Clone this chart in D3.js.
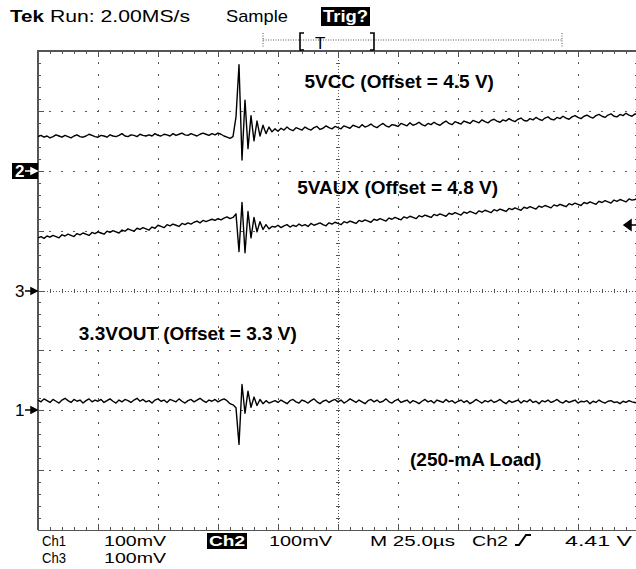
<!DOCTYPE html>
<html>
<head>
<meta charset="utf-8">
<title>Tek capture</title>
<script src="https://cdn.jsdelivr.net/npm/d3@7/dist/d3.min.js"></script>
<style>
  body { margin: 0; background: #fff; }
  svg { display: block; }
  .grat line, .grat path { stroke: #555; shape-rendering: crispEdges; }
  .lbl { font-family: "Liberation Sans", Arial, sans-serif; font-weight: bold; font-size: 19px; }
  .scr { font-family: "Liberation Sans", Arial, sans-serif; font-size: 17px; }
  .foot { font-size: 15px; }
</style>
</head>
<body>
<div id="scope"></div>
<script>
//sample clock: 1.25 us per point, 10 div x 25 us
const timeUs = d3.range(0, 250.01, 1.25);

//screen values in mV from graticule centre (100 mV/div)
const vcc5 = [
  257,259,256,258,255,257,260,258,256,259,
  257,255,258,260,257,256,258,261,259,257,
  256,259,258,256,260,258,257,259,262,258,
  257,260,259,257,261,259,258,260,258,262,
  259,258,261,260,258,262,259,261,263,260,
  259,262,260,258,261,263,261,259,262,260,
  263,261,258,256,254,257,
  290,377,218,318,237,292,250,283,258,276,262,273,265,
  270,266,271,268,273,269,267,272,270,268,
  273,270,268,272,274,269,271,275,272,270,
  274,272,270,275,273,271,276,274,272,277,
  273,275,278,274,272,276,279,275,273,277,
  276,274,279,277,275,280,276,278,281,277,
  275,279,277,281,278,276,280,283,279,277,
  282,280,278,283,281,279,284,282,280,285,
  282,280,284,286,283,281,285,283,287,284,
  282,286,288,284,283,287,285,289,286,284,
  288,290,286,285,289,287,291,288,286,290,
  292,289,287,291,293,290,288,292,294,291,
  289,293,295,291,290,294,292,296,293,291,
  295,293
];

const vaux5 = [
  88,90,87,91,89,92,90,88,93,91,
  94,92,90,95,93,96,94,92,97,95,
  98,96,94,99,97,100,98,96,101,99,
  103,101,99,104,102,105,103,101,106,104,
  109,107,105,110,108,111,109,107,112,110,
  113,111,114,116,113,117,115,117,119,117,
  120,118,121,123,120,122,
  128,65,147,63,132,88,122,98,115,102,110,103,107,
  106,109,105,108,110,106,109,107,111,108,
  110,107,112,109,111,113,110,108,113,111,
  114,112,110,115,113,116,114,112,117,115,
  118,116,114,119,117,120,118,116,121,119,
  122,120,118,123,121,124,122,120,125,123,
  126,124,122,127,125,128,126,124,129,127,
  130,128,126,131,129,132,130,128,133,131,
  134,132,130,135,133,136,134,132,137,135,
  138,136,134,139,137,140,138,136,141,139,
  142,140,138,143,141,144,142,140,145,143,
  146,144,142,147,145,148,146,144,149,147,
  150,148,146,151,149,152,150,148,153,151,
  152,154
];

const vout33 = [
  -183,-186,-181,-184,-187,-182,-185,-188,-183,-180,
  -184,-187,-182,-185,-183,-188,-184,-181,-186,-183,
  -185,-182,-187,-184,-181,-185,-188,-183,-186,-182,
  -184,-187,-183,-180,-185,-182,-186,-184,-188,-183,
  -181,-185,-183,-187,-182,-184,-186,-181,-185,-188,
  -184,-182,-186,-183,-180,-184,-187,-183,-185,-182,
  -186,-183,-181,-184,-189,-191,
  -196,-257,-157,-205,-168,-195,-178,-192,-182,-189,-184,-188,-186,
  -184,-187,-183,-186,-189,-184,-182,-186,-188,-183,
  -185,-188,-184,-181,-186,-189,-185,-183,-187,-184,
  -182,-186,-183,-188,-185,-181,-184,-187,-183,-186,
  -189,-184,-182,-186,-183,-187,-185,-181,-186,-188,
  -184,-182,-187,-185,-183,-188,-184,-186,-189,-185,
  -182,-186,-184,-188,-183,-185,-187,-182,-186,-184,
  -188,-185,-183,-187,-184,-189,-186,-182,-185,-188,
  -184,-186,-183,-187,-185,-182,-186,-189,-184,-187,
  -185,-183,-188,-184,-186,-182,-187,-185,-189,-184,
  -186,-183,-187,-185,-182,-186,-188,-184,-187,-185,
  -183,-188,-185,-186,-184,-189,-185,-187,-183,-186,
  -188,-185,-184,-187,-186,-189,-185,-187,-184,-186,
  -187,-188
];

//trace annotations, anchored at (us, mV)
const traceLabels = ["5VCC (Offset = 4.5 V)", "5VAUX (Offset = 4.8 V)", "3.3VOUT (Offset = 3.3 V)", "(250-mA Load)"];
const labelTime = [111, 108, 17, 155];
const labelMv = [338, 162, -82, -293];

//channel ground markers on the left, trigger level on the right
const chanNames = ["2", "3", "1"];
const chanMv = [200, 0, -200];
const selectedChan = "2";
const trigLevelMv = 110;

//graticule: 10 x 8 div, 5 minor per div
const majorT = d3.range(0, 250.01, 25);
const minorT = d3.range(0, 250.01, 5);
const majorV = d3.range(-400, 400.01, 100);
const minorV = d3.range(-400, 400.01, 20);

let svgWidth = 636;
let svgHeight = 569;

let svg = d3.select("#scope")
    .append("svg")
    .attr("width", svgWidth)
    .attr("height", svgHeight);

let x = d3.scaleLinear().domain([0, 250]).range([38, 638]);
let y = d3.scaleLinear().domain([-400, 400]).range([530, 51]);

let grat = svg.append("g").attr("class", "grat");

//dotted major lines
grat.selectAll(".vdot")
    .data(majorT.filter(t => t > 0 && t < 250 && t !== 125))
    .join("line")
    .attr("x1", d => Math.round(x(d)) + 0.5).attr("x2", d => Math.round(x(d)) + 0.5)
    .attr("y1", y(400)).attr("y2", y(-400))
    .attr("stroke-dasharray", "1.5 10.5")
    .attr("stroke-dashoffset", -11.2);

grat.selectAll(".hdot")
    .data(majorV.filter(v => v > -400 && v < 400 && v !== 0))
    .join("line")
    .attr("y1", d => Math.round(y(d)) + 0.5).attr("y2", d => Math.round(y(d)) + 0.5)
    .attr("x1", x(0)).attr("x2", x(250))
    .attr("stroke-dasharray", "1.5 10.5")
    .attr("stroke-dashoffset", -11.2);

//centre cross, fine dotted
grat.append("line")
    .attr("x1", Math.round(x(125)) + 0.5).attr("x2", Math.round(x(125)) + 0.5)
    .attr("y1", y(400)).attr("y2", y(-400))
    .attr("stroke-dasharray", "1 2");
grat.append("line")
    .attr("y1", Math.round(y(0)) + 0.5).attr("y2", Math.round(y(0)) + 0.5)
    .attr("x1", x(0)).attr("x2", x(250))
    .attr("stroke-dasharray", "1 2");

//tick rows on the edges and centre lines
function tickRow(axis, tx, ty, vals, size) {
    grat.append("g")
        .attr("transform", `translate(${tx}, ${ty})`)
        .call(axis.tickValues(vals).tickSize(size).tickFormat(""))
        .call(g => g.select(".domain").remove());
}
tickRow(d3.axisBottom(x), 0, y(400), minorT, 3);
tickRow(d3.axisBottom(x), 0, y(400), majorT, 6);
tickRow(d3.axisTop(x), 0, y(-400), minorT, 3);
tickRow(d3.axisTop(x), 0, y(-400), majorT, 6);
tickRow(d3.axisRight(y), x(0), 0, minorV, 3);
tickRow(d3.axisRight(y), x(0), 0, majorV, 6);
tickRow(d3.axisLeft(y), x(250), 0, minorV, 3);
tickRow(d3.axisBottom(x), 0, y(0), minorT, 2);
tickRow(d3.axisTop(x), 0, y(0), minorT, 2);
tickRow(d3.axisLeft(y), x(125), 0, minorV, 2);
tickRow(d3.axisRight(y), x(125), 0, minorV, 2);

//frame
grat.append("path")
    .attr("d", `M${x(0)},${y(-400)}V${y(400)}H${x(250)}`)
    .attr("fill", "none")
    .attr("stroke", "#555")
    .attr("stroke-width", 2);
grat.append("line")
    .attr("x1", x(0)).attr("x2", x(250))
    .attr("y1", y(-400)).attr("y2", y(-400))
    .attr("stroke-width", 1);

//traces
let line = d3.line()
    .x((d, i) => x(timeUs[i]))
    .y(d => y(d));

svg.selectAll(".trace")
    .data([vcc5, vaux5, vout33])
    .join("path")
    .attr("class", "trace")
    .attr("d", line)
    .attr("fill", "none")
    .attr("stroke", "#000")
    .attr("stroke-width", 1.4)
    .attr("stroke-linejoin", "round");

//trace labels
svg.selectAll(".lbl")
    .data(traceLabels)
    .join("text")
    .attr("class", "lbl")
    .attr("x", (d, i) => x(labelTime[i]))
    .attr("y", (d, i) => y(labelMv[i]))
    .attr("fill", "#000")
    .text(d => d);

//channel markers
chanNames.forEach((c, i) => {
    let cy = Math.round(y(chanMv[i]));
    let on = c === selectedChan;
    if (on) {
        svg.append("rect")
            .attr("x", 12).attr("y", cy - 8)
            .attr("width", 26).attr("height", 16)
            .attr("fill", "#000");
    }
    svg.append("text")
        .attr("class", "scr")
        .attr("x", 15).attr("y", cy + 6)
        .attr("font-weight", on ? "bold" : null)
        .attr("fill", on ? "#fff" : "#000")
        .text(c);
    svg.append("path")
        .attr("d", `M25,${cy}H32M31,${cy - 3}L37,${cy}L31,${cy + 3}Z`)
        .attr("stroke", on ? "#fff" : "#000")
        .attr("fill", on ? "#fff" : "#000")
        .attr("stroke-width", 1.5);
});

//trigger level marker
let ty = Math.round(y(trigLevelMv));
svg.append("path")
    .attr("d", `M624,${ty}L631,${ty - 5}V${ty + 5}Z M630,${ty}H636`)
    .attr("fill", "#000")
    .attr("stroke", "#000")
    .attr("stroke-width", 1.5);

//screen text helper: squeeze glyphs into the measured span
function scrText(str, px, py, len, opts = {}) {
    return svg.append("text").attr("class", opts.foot ? "scr foot" : "scr")
        .attr("x", px).attr("y", py)
        .attr("textLength", len)
        .attr("lengthAdjust", "spacingAndGlyphs")
        .attr("font-weight", opts.bold ? "bold" : null)
        .attr("fill", opts.white ? "#fff" : "#000")
        .text(str);
}

//header
scrText("Tek", 10, 22, 34, { bold: true });
scrText("Run: 2.00MS/s", 50, 22, 140);
scrText("Sample", 226, 22, 62);
svg.append("rect").attr("x", 321).attr("y", 7).attr("width", 49).attr("height", 19).attr("fill", "#000");
scrText("Trig?", 323, 22, 45, { bold: true, white: true });

//record position bar
svg.append("path")
    .attr("d", "M263,40H562M263,33V48M562,33V48")
    .attr("stroke", "#555").attr("stroke-dasharray", "1 1.5").attr("fill", "none");
svg.append("path")
    .attr("d", "M304,33H300V50H304M370,33H374V50H370")
    .attr("stroke", "#000").attr("stroke-width", 1.6).attr("fill", "none");
svg.append("text").attr("class", "scr").attr("x", 315).attr("y", 49).attr("fill", "#000").text("T");

//footer
let foot = [
    ["Ch1", 42, 546, 24], ["100mV", 104, 546, 62], ["100mV", 269, 546, 63],
    ["M 25.0µs", 370, 546, 85], ["Ch2", 472, 546, 36], ["4.41 V", 565, 546, 67],
    ["Ch3", 42, 563, 24], ["100mV", 104, 563, 62]
];
foot.forEach(f => scrText(f[0], f[1], f[2], f[3], { foot: true }));
svg.append("rect").attr("x", 207).attr("y", 533).attr("width", 40).attr("height", 16).attr("fill", "#000");
scrText("Ch2", 209, 546, 36, { bold: true, white: true, foot: true });
svg.append("path")
    .attr("d", "M515,545H519L526,535H531")
    .attr("stroke", "#000").attr("stroke-width", 2).attr("fill", "none");
</script>
</body>
</html>
